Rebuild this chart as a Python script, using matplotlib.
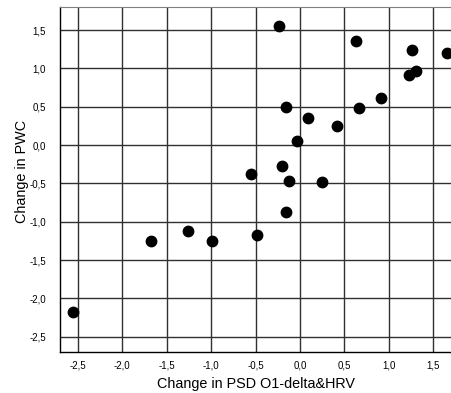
import matplotlib
matplotlib.use("Agg")
import matplotlib.pyplot as plt

# Change in PSD O1-delta&HRV vs change in PWC
psd_change = [-0.232, 0.633, 1.255, 1.655, 1.228, 1.303, 0.906, 0.667, -0.161, 0.086, 0.412,
              -0.034, -0.206, -0.554, -0.127, 0.251, -0.161, -1.674, -1.262, -0.989, -0.483, -2.554]
pwc_change = [1.553, 1.354, 1.241, 1.207, 0.911, 0.968, 0.612, 0.486, 0.499, 0.347, 0.252,
              0.056, -0.269, -0.382, -0.473, -0.482, -0.872, -1.250, -1.120, -1.246, -1.168, -2.183]

x_ticks = [-2.5, -2.0, -1.5, -1.0, -0.5, 0.0, 0.5, 1.0, 1.5]
y_ticks = [-2.5, -2.0, -1.5, -1.0, -0.5, 0.0, 0.5, 1.0, 1.5]

plt.rcParams['font.family'] = ['Liberation Sans', 'DejaVu Sans']

fig = plt.figure(figsize=(4.52, 3.93), dpi=100)
ax = fig.add_axes([0.1327, 0.1043, 0.8673, 0.8777])

ax.scatter(psd_change, pwc_change, s=56, color='black', zorder=3, clip_on=True)

ax.set_xlim(-2.70, 1.71)
ax.set_ylim(-2.70, 1.80)
ax.set_xticks(x_ticks)
ax.set_yticks(y_ticks)
ax.set_xticklabels([f"{v:.1f}".replace('.', ',') for v in x_ticks], fontsize=7)
ax.set_yticklabels([f"{v:.1f}".replace('.', ',') for v in y_ticks], fontsize=7)
ax.tick_params(axis='x', length=0, pad=6)
ax.tick_params(axis='y', length=0, pad=10)

ax.grid(True, color='#303030', linewidth=1.0)
ax.set_axisbelow(True)
for side in ['left', 'bottom']:
    ax.spines[side].set_color('black')
    ax.spines[side].set_linewidth(1.0)
ax.spines['top'].set_color('#808080')
ax.spines['right'].set_visible(False)

ax.set_xlabel('Change in PSD O1-delta&HRV', fontsize=10.4, labelpad=5)
ax.set_ylabel('Change in PWC', fontsize=10.4)
ax.yaxis.set_label_coords(-0.08, 0.523)

fig.savefig('out.png', dpi=100)
